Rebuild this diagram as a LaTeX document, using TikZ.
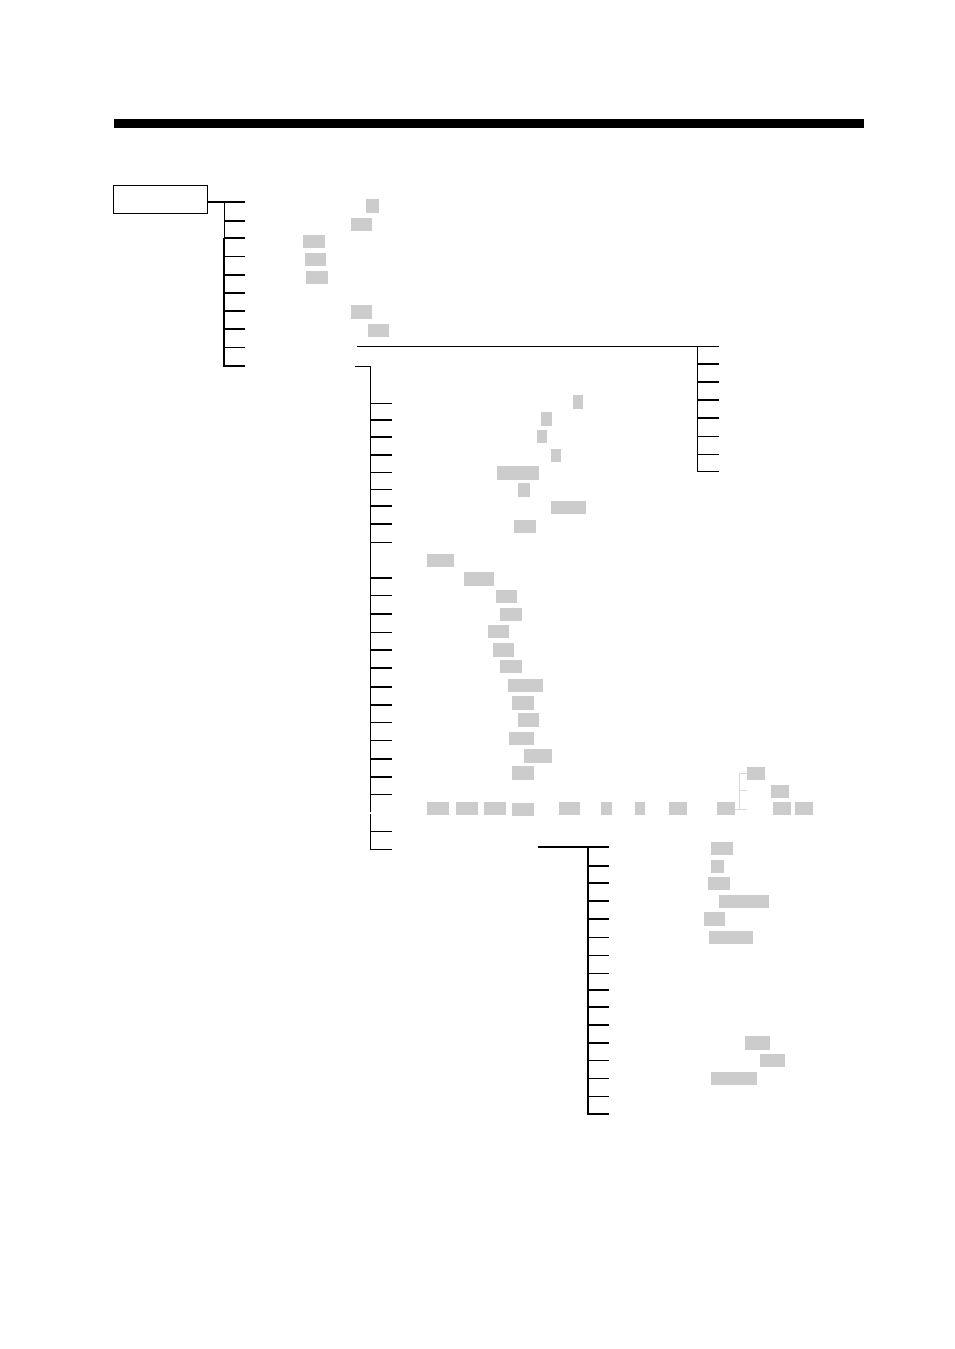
\documentclass[tikz,border=0pt]{standalone}
\usepackage{tikz}
\usetikzlibrary{positioning}

\begin{document}
\begin{tikzpicture}[x=1pt, y=-1pt,
    heavy/.style={line width=1.8pt},
    light/.style={line width=0.8pt},
    hl/.style={fill=black!20, draw=none, inner sep=0pt, anchor=north west}
]
    \useasboundingbox (0,0) rectangle (954,1349);

    % top rule and root box
    \node [fill=black, inner sep=0pt, minimum width=750pt, minimum height=9pt, anchor=north west] (bar) at (114,119) {};
    \node [draw, line width=1pt, inner sep=0pt, minimum width=94pt, minimum height=28pt, anchor=north west] (root) at (112.5,184.5) {};

    % first level
    \coordinate (top) at (224,202);
    \coordinate (mid) at (224,238);
    \coordinate (bot) at (224,367);
    \draw [light] (top) -- (mid);
    \draw [heavy] (mid) -- (bot);
    \coordinate (first) at (245,202);
    \draw [heavy] (root.east |- first) -- (first);
    \foreach \y [count=\i] in {221,238,275,293,311,329,366} {
        \coordinate (a\i) at (224,\y);
        \coordinate (b\i) at (245,\y);
        \draw [heavy] (a\i) -- (b\i);
    }
    \foreach \y [count=\i] in {256,347} {
        \coordinate (ta\i) at (224,\y);
        \coordinate (tb\i) at (245,\y);
        \draw [light] (ta\i) -- (tb\i);
    }

    % long line and right group
    \coordinate (lineL) at (357,346);
    \coordinate (lineR) at (719,346);
    \coordinate (righttop) at (697,346);
    \coordinate (rightbot) at (697,471);
    \draw [light] (lineL) -- (lineR);
    \draw [light] (righttop) -- (rightbot);
    \foreach \y [count=\i] in {364,382,400,418} {
        \coordinate (ra\i) at (697,\y);
        \coordinate (rb\i) at (719,\y);
        \draw [heavy] (ra\i) -- (rb\i);
    }
    \foreach \y [count=\i] in {436,454,471} {
        \coordinate (rc\i) at (697,\y);
        \coordinate (rd\i) at (719,\y);
        \draw [light] (rc\i) -- (rd\i);
    }

    % middle group
    \coordinate (hook) at (355,366.5);
    \coordinate (midtop) at (370.3,366.5);
    \coordinate (midgap) at (370.3,812);
    \coordinate (midgap2) at (370.3,814);
    \coordinate (midbot) at (370.3,849.5);
    \draw [light] (hook) -- (midtop) -- (midgap);
    \draw [light] (midgap2) -- (midbot);
    \foreach \y [count=\i] in {420,437,455,506,524,578,614,650,668,687,705,759,777} {
        \coordinate (ma\i) at (370,\y);
        \coordinate (mb\i) at (392,\y);
        \draw [heavy] (ma\i) -- (mb\i);
    }
    \foreach \y [count=\i] in {403,472,489,542,595,632,722,740,794,831,849} {
        \coordinate (mc\i) at (370,\y);
        \coordinate (md\i) at (392,\y);
        \draw [light] (mc\i) -- (md\i);
    }

    % bottom group
    \coordinate (lowL) at (538,847);
    \coordinate (lowR) at (609,847);
    \coordinate (lowtop) at (588,846);
    \coordinate (lowbot) at (588,1115);
    \draw [heavy] (lowL) -- (lowR);
    \draw [heavy] (lowtop) -- (lowbot);
    \foreach \y [count=\i] in {866,883,901,919,990,1007,1025,1043,1114} {
        \coordinate (la\i) at (588,\y);
        \coordinate (lb\i) at (609,\y);
        \draw [heavy] (la\i) -- (lb\i);
    }
    \foreach \y [count=\i] in {937,955,973,1060,1078,1096} {
        \coordinate (lc\i) at (588,\y);
        \coordinate (ld\i) at (609,\y);
        \draw [light] (lc\i) -- (ld\i);
    }

    % small grey bracket
    \coordinate (gt) at (739,773);
    \coordinate (gm) at (739,790);
    \coordinate (gb) at (739,809);
    \coordinate (gt2) at (747,773);
    \coordinate (gm2) at (747,790);
    \coordinate (gb1) at (735,809);
    \coordinate (gb2) at (747,809);
    \draw [black!15, line width=0.7pt] (gt2) -- (gt) -- (gb);
    \draw [black!15, line width=0.7pt] (gm) -- (gm2);
    \draw [black!15, line width=0.7pt] (gb1) -- (gb2);

    % grey marks
    \foreach \x/\y/\w/\h [count=\i] in {
        366/199/13/14, 351/218/21/13, 303/235/22/13, 305/253/21/13, 306/271/22/13,
        351/305/21/14, 368/324/21/13,
        573/395/10/14, 541/412/11/14, 537/430/10/13, 551/449/10/13, 497/466/42/14,
        518/483/12/14, 551/501/35/13, 514/520/22/13,
        427/554/27/13, 464/572/30/14, 496/590/21/13, 500/608/22/13, 488/625/21/13,
        493/643/21/14, 500/660/22/13, 508/679/35/13, 512/696/22/14, 518/713/21/14,
        509/732/25/13, 524/749/28/14, 512/766/22/14,
        427/802/22/13, 456/802/22/13, 484/802/22/13, 512/803/22/13, 559/802/21/13,
        601/802/11/13, 635/802/10/13, 669/802/18/13, 717/802/18/13, 773/802/18/13,
        795/802/18/13, 747/767/18/13, 771/785/18/13,
        711/842/22/13, 711/860/13/13, 708/877/22/13, 719/895/50/13, 704/912/21/14,
        709/931/44/13, 745/1036/25/14, 760/1054/25/13, 711/1072/46/13} {
        \node [hl, minimum width=\w pt, minimum height=\h pt] (mark\i) at (\x,\y) {};
    }
\end{tikzpicture}
\end{document}
